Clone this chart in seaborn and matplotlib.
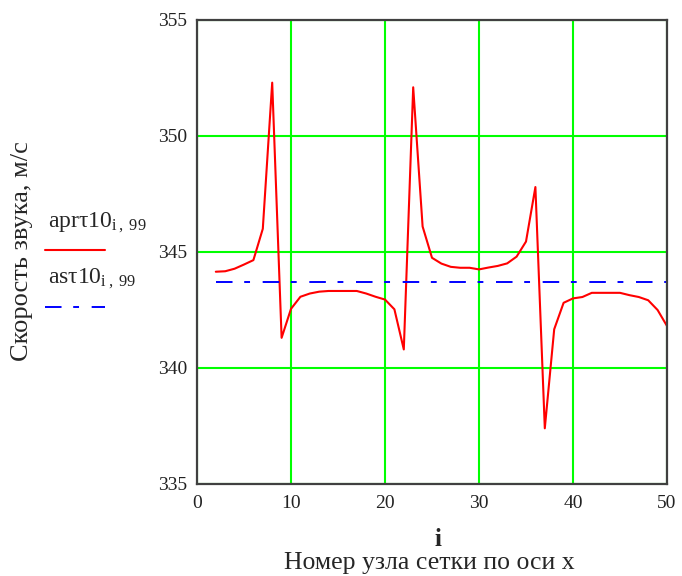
import numpy as np
import pandas as pd
import matplotlib
matplotlib.use("Agg")
import matplotlib.pyplot as plt
from matplotlib.lines import Line2D
import seaborn as sns

# node index along x
node_i = list(range(2, 51))
# sound speed, aprτ10 (red)
speed_apr = [344.15, 344.17, 344.28, 344.46, 344.65, 346.0, 352.3, 341.3, 342.55,
             343.07, 343.21, 343.29, 343.32, 343.32, 343.32, 343.32, 343.21, 343.07,
             342.95, 342.53, 340.8, 352.1, 346.1, 344.75, 344.5, 344.36, 344.32,
             344.32, 344.25, 344.33, 344.4, 344.51, 344.8, 345.45, 347.8, 337.4,
             341.67, 342.81, 343.0, 343.06, 343.24, 343.24, 343.24, 343.24, 343.14,
             343.06, 342.92, 342.5, 341.81]
# sound speed, asτ10 (blue, constant)
speed_as = [343.72] * len(node_i)

df = pd.DataFrame({"i": node_i, "apr": speed_apr, "as": speed_as})

sns.set_style("white")
plt.rcParams["font.family"] = ["Liberation Serif", "DejaVu Serif"]
plt.rcParams["mathtext.default"] = "regular"

fig = plt.figure(figsize=(6.82, 5.76), dpi=100)
ax = fig.add_axes([197 / 682, 92 / 576, 470 / 682, 464 / 576])

sns.lineplot(data=df, x="i", y="apr", color="#ff0000", linewidth=1.5, ax=ax)
sns.lineplot(data=df, x="i", y="as", color="#0000ff", linewidth=1.4,
             linestyle=(0, (8.5, 6.0, 3.0, 6.5)), ax=ax)

ax.set_xlim(0, 50)
ax.set_ylim(335, 355)
ax.set_xticks([0, 10, 20, 30, 40, 50])
ax.set_yticks([335, 340, 345, 350, 355])
ax.grid(True, color="#00ff00", linewidth=1.5)
ax.set_axisbelow(True)
ax.tick_params(length=0, labelsize=14, colors="#222222")
ax.tick_params(axis="x", pad=8)
ax.tick_params(axis="y", pad=7)
for s in ax.spines.values():
    s.set_color("#404040")
    s.set_linewidth(1.6)
ax.set_xlabel("")
ax.set_ylabel("")

fig.text(22 / 682, 1 - 251 / 576, "Скорость звука, м/с", rotation=90,
         ha="center", va="center", fontsize=19)
fig.text(438 / 682, 1 - 540 / 576, "i", ha="center", va="center",
         fontsize=18, fontweight="bold")
fig.text(429 / 682, 1 - 563 / 576, "Номер узла сетки по оси x",
         ha="center", va="center", fontsize=18.5)

# legend block on the left
fig.text(48 / 682, 1 - 227 / 576, r"aprτ10$_{i\,,\,99}$", ha="left",
         va="baseline", fontsize=17)
fig.text(48 / 682, 1 - 283 / 576, r"asτ10$_{i\,,\,99}$", ha="left",
         va="baseline", fontsize=17)
fig.add_artist(Line2D([45 / 682, 105 / 682], [1 - 250 / 576] * 2,
                      color="#ff0000", linewidth=1.5, transform=fig.transFigure))
fig.add_artist(Line2D([45 / 682, 105 / 682], [1 - 307 / 576] * 2,
                      color="#0000ff", linewidth=1.4,
                      linestyle=(0, (8.5, 6.0, 3.0, 6.5)),
                      transform=fig.transFigure))

fig.savefig("out.png", dpi=100)
